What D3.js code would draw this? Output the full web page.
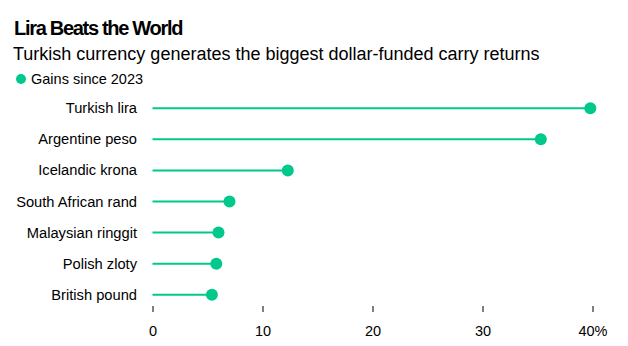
<!DOCTYPE html>
<html>
<head>
<meta charset="utf-8">
<title>Lira Beats the World</title>
<script src="https://cdn.jsdelivr.net/npm/d3@7"></script>
<style>
  body { margin: 0; background: #fff; }
  svg { display: block; font-family: "Liberation Sans", Arial, sans-serif; }
</style>
</head>
<body>
<div id="chart"></div>
<script>
// carry trade gains since 2023, in percent
var currencies = ["Turkish lira", "Argentine peso", "Icelandic krona", "South African rand",
                  "Malaysian ringgit", "Polish zloty", "British pound"];
var gains = [39.8, 35.3, 12.3, 7.0, 6.0, 5.8, 5.4];
var tickValues = [0, 10, 20, 30, 40];

var w = 628, h = 346;
var green = "#00c98b";

var svg = d3.select("#chart").append("svg")
    .attr("width", w)
    .attr("height", h);

svg.append("text")
    .attr("x", 14).attr("y", 35)
    .attr("font-size", "20px").attr("font-weight", "bold")
    .attr("letter-spacing", "-1.3px")
    .attr("fill", "#000")
    .text("Lira Beats the World");

svg.append("text")
    .attr("x", 13).attr("y", 60)
    .attr("font-size", "18px")
    .attr("fill", "#000")
    .text("Turkish currency generates the biggest dollar-funded carry returns");

// legend
svg.append("circle").attr("cx", 21).attr("cy", 79).attr("r", 5).attr("fill", green);
svg.append("text")
    .attr("x", 31).attr("y", 83.5)
    .attr("font-size", "14.5px")
    .attr("fill", "#000")
    .text("Gains since 2023");

var x = d3.scaleLinear().domain([0, 40]).range([152.5, 592.5]);
var y = d3.scalePoint().domain(currencies).range([108.3, 294.7]);

var rows = currencies.map(function(c, i) { return {name: c, value: gains[i]}; });

svg.selectAll("text.cat")
    .data(rows)
    .enter().append("text")
    .attr("class", "cat")
    .attr("x", 137)
    .attr("y", function(d) { return y(d.name) + 5; })
    .attr("text-anchor", "end")
    .attr("font-size", "14.7px")
    .attr("fill", "#000")
    .text(function(d) { return d.name; });

svg.selectAll("line.stem")
    .data(rows)
    .enter().append("line")
    .attr("class", "stem")
    .attr("x1", x(0))
    .attr("x2", function(d) { return x(d.value); })
    .attr("y1", function(d) { return y(d.name); })
    .attr("y2", function(d) { return y(d.name); })
    .attr("stroke", green)
    .attr("stroke-width", 2);

svg.selectAll("circle.dot")
    .data(rows)
    .enter().append("circle")
    .attr("class", "dot")
    .attr("cx", function(d) { return x(d.value); })
    .attr("cy", function(d) { return y(d.name); })
    .attr("r", 6)
    .attr("fill", green);

// bottom axis: short ticks, no domain line
var axis = svg.append("g")
    .attr("transform", "translate(0,306)")
    .call(d3.axisBottom(x)
        .tickValues(tickValues)
        .tickSize(6)
        .tickPadding(14)
        .tickFormat(function(d) { return d === 40 ? d + "%" : d; }));

axis.select(".domain").remove();
axis.selectAll(".tick line").attr("stroke", "#000").attr("stroke-width", 1);
axis.selectAll(".tick text")
    .attr("font-family", "\"Liberation Sans\", Arial, sans-serif")
    .attr("font-size", "14.5px")
    .attr("fill", "#000");
</script>
</body>
</html>
